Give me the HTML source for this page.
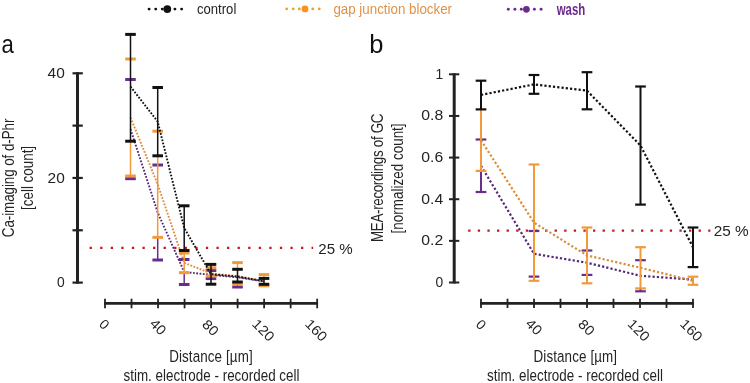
<!DOCTYPE html>
<html><head><meta charset="utf-8"><style>
html,body{margin:0;padding:0;background:#fff;}
svg{display:block;will-change:transform;}
text{font-family:"Liberation Sans", sans-serif;}
</style></head><body>
<svg width="750" height="383" viewBox="0 0 750 383">
<circle cx="149.10" cy="9.1" r="1.45" fill="#111111"/>
<circle cx="155.70" cy="9.1" r="1.45" fill="#111111"/>
<circle cx="162.30" cy="9.1" r="1.45" fill="#111111"/>
<circle cx="174.90" cy="9.1" r="1.45" fill="#111111"/>
<circle cx="181.60" cy="9.1" r="1.45" fill="#111111"/>
<circle cx="167.3" cy="9.1" r="3.9" fill="#111111"/>
<text x="197" y="14.4" font-size="15.5" fill="#242424" text-anchor="start" font-weight="normal" textLength="39.3" lengthAdjust="spacingAndGlyphs" >control</text>
<circle cx="286.70" cy="8.9" r="1.45" fill="#e5a72a"/>
<circle cx="293.20" cy="8.9" r="1.45" fill="#e5a72a"/>
<circle cx="299.30" cy="8.9" r="1.45" fill="#e5a72a"/>
<circle cx="312.70" cy="8.9" r="1.45" fill="#e5a72a"/>
<circle cx="319.20" cy="8.9" r="1.45" fill="#e5a72a"/>
<circle cx="305" cy="8.9" r="3.4" fill="#f7931e"/>
<text x="333.4" y="14" font-size="15.5" fill="#df9248" text-anchor="start" font-weight="normal" textLength="118.6" lengthAdjust="spacingAndGlyphs" >gap junction blocker</text>
<circle cx="508.30" cy="9.3" r="1.45" fill="#6a2d8c"/>
<circle cx="514.90" cy="9.3" r="1.45" fill="#6a2d8c"/>
<circle cx="521.30" cy="9.3" r="1.45" fill="#6a2d8c"/>
<circle cx="534.40" cy="9.3" r="1.45" fill="#6a2d8c"/>
<circle cx="541.10" cy="9.3" r="1.45" fill="#6a2d8c"/>
<circle cx="526.4" cy="9.3" r="3.4" fill="#6a2d8c"/>
<text x="556.7" y="14.9" font-size="16.5" fill="#6b2a8b" text-anchor="start" font-weight="bold" textLength="28.6" lengthAdjust="spacingAndGlyphs" >wash</text>
<text x="1.4" y="53.2" font-size="25" fill="#111" text-anchor="start" font-weight="normal" textLength="12.3" lengthAdjust="spacingAndGlyphs" >a</text>
<text x="369.3" y="53.2" font-size="25.5" fill="#111" text-anchor="start" font-weight="normal" >b</text>
<line x1="77.5" y1="72.2" x2="77.5" y2="283.70000000000005" stroke="#222222" stroke-width="3"/>
<line x1="72.5" y1="282.60" x2="82.8" y2="282.60" stroke="#222222" stroke-width="2.2"/>
<line x1="72.5" y1="230.28" x2="82.8" y2="230.28" stroke="#222222" stroke-width="2.2"/>
<line x1="72.5" y1="177.95" x2="82.8" y2="177.95" stroke="#222222" stroke-width="2.2"/>
<line x1="72.5" y1="125.62" x2="82.8" y2="125.62" stroke="#222222" stroke-width="2.2"/>
<line x1="72.5" y1="73.30" x2="82.8" y2="73.30" stroke="#222222" stroke-width="2.2"/>
<text x="64.8" y="78.0" font-size="13.8" fill="#242424" text-anchor="end" font-weight="normal" textLength="17.2" lengthAdjust="spacingAndGlyphs" >40</text>
<text x="64.8" y="182.65" font-size="13.8" fill="#242424" text-anchor="end" font-weight="normal" textLength="17.2" lengthAdjust="spacingAndGlyphs" >20</text>
<text x="64.8" y="287.3" font-size="13.8" fill="#242424" text-anchor="end" font-weight="normal" >0</text>
<line x1="104.1" y1="303.4" x2="318.05999999999995" y2="303.4" stroke="#222222" stroke-width="2.8"/>
<line x1="105.00" y1="298.7" x2="105.00" y2="308.3" stroke="#222222" stroke-width="1.8"/>
<line x1="131.52" y1="298.7" x2="131.52" y2="308.3" stroke="#222222" stroke-width="1.8"/>
<line x1="158.04" y1="298.7" x2="158.04" y2="308.3" stroke="#222222" stroke-width="1.8"/>
<line x1="184.56" y1="298.7" x2="184.56" y2="308.3" stroke="#222222" stroke-width="1.8"/>
<line x1="211.08" y1="298.7" x2="211.08" y2="308.3" stroke="#222222" stroke-width="1.8"/>
<line x1="237.60" y1="298.7" x2="237.60" y2="308.3" stroke="#222222" stroke-width="1.8"/>
<line x1="264.12" y1="298.7" x2="264.12" y2="308.3" stroke="#222222" stroke-width="1.8"/>
<line x1="290.64" y1="298.7" x2="290.64" y2="308.3" stroke="#222222" stroke-width="1.8"/>
<line x1="317.16" y1="298.7" x2="317.16" y2="308.3" stroke="#222222" stroke-width="1.8"/>
<text transform="translate(104.4,324.3) rotate(45)" font-size="13.8" fill="#242424" text-anchor="middle" dy="4.9">0</text>
<text transform="translate(158.2,326.8) rotate(45)" font-size="13.8" fill="#242424" text-anchor="middle" dy="4.9" textLength="16.4" lengthAdjust="spacingAndGlyphs">40</text>
<text transform="translate(210.6,327.5) rotate(45)" font-size="13.8" fill="#242424" text-anchor="middle" dy="4.9" textLength="16.4" lengthAdjust="spacingAndGlyphs">80</text>
<text transform="translate(263.5,330.1) rotate(45)" font-size="13.8" fill="#242424" text-anchor="middle" dy="4.9" textLength="24.6" lengthAdjust="spacingAndGlyphs">120</text>
<text transform="translate(316.3,330.1) rotate(45)" font-size="13.8" fill="#242424" text-anchor="middle" dy="4.9" textLength="24.6" lengthAdjust="spacingAndGlyphs">160</text>
<line x1="89.6" y1="247.9" x2="313.2" y2="247.9" stroke="#c8161f" stroke-width="2.3" stroke-dasharray="2.3 8.27"/>
<text x="318.3" y="254.3" font-size="13.8" fill="#242424" text-anchor="start" font-weight="normal" textLength="34.4" lengthAdjust="spacingAndGlyphs" >25 %</text>
<text transform="translate(13.7,177.9) rotate(-90) scale(0.86,1)" font-size="15.6" fill="#242424" text-anchor="middle" font-weight="normal" textLength="137.79" lengthAdjust="spacing">Ca-imaging of d-Phr</text>
<text transform="translate(32.7,177.9) rotate(-90) scale(0.86,1)" font-size="15.6" fill="#242424" text-anchor="middle" font-weight="normal" textLength="74.42" lengthAdjust="spacing">[cell count]</text>
<text transform="translate(210.9,361.7) scale(0.86,1)" font-size="15.6" fill="#242424" text-anchor="middle" font-weight="normal" textLength="97.09" lengthAdjust="spacing">Distance [µm]</text>
<text transform="translate(211.5,380.7) scale(0.86,1)" font-size="15.6" fill="#242424" text-anchor="middle" font-weight="normal" textLength="204.65" lengthAdjust="spacing">stim. electrode - recorded cell</text>
<line x1="130.5" y1="176.00" x2="130.5" y2="178.70" stroke="#6a2d8c" stroke-width="1.5"/>
<line x1="125.20" y1="79.5" x2="135.80" y2="79.5" stroke="#6a2d8c" stroke-width="3"/>
<line x1="125.20" y1="178.7" x2="135.80" y2="178.7" stroke="#6a2d8c" stroke-width="3"/>
<line x1="157.7" y1="237.40" x2="157.7" y2="260.00" stroke="#6a2d8c" stroke-width="1.5"/>
<line x1="152.40" y1="165" x2="163.00" y2="165" stroke="#6a2d8c" stroke-width="3"/>
<line x1="152.40" y1="260" x2="163.00" y2="260" stroke="#6a2d8c" stroke-width="3"/>
<line x1="184.2" y1="272.70" x2="184.2" y2="284.50" stroke="#6a2d8c" stroke-width="1.5"/>
<line x1="178.90" y1="259.5" x2="189.50" y2="259.5" stroke="#6a2d8c" stroke-width="3"/>
<line x1="178.90" y1="284.5" x2="189.50" y2="284.5" stroke="#6a2d8c" stroke-width="3"/>
<line x1="205.70" y1="270.5" x2="216.30" y2="270.5" stroke="#6a2d8c" stroke-width="3"/>
<line x1="205.70" y1="278.6" x2="216.30" y2="278.6" stroke="#6a2d8c" stroke-width="3"/>
<line x1="237.5" y1="284.00" x2="237.5" y2="287.00" stroke="#6a2d8c" stroke-width="1.5"/>
<line x1="232.20" y1="287.0" x2="242.80" y2="287.0" stroke="#6a2d8c" stroke-width="3"/>
<path d="M130.5,129.1 L157.7,212.5 L184.2,272 L211.0,274.8 L237.5,277.3 L264.0,281.3" fill="none" stroke="#572579" stroke-width="1.9" stroke-dasharray="1.75 1.55"/>
<line x1="130.5" y1="141.20" x2="130.5" y2="176.00" stroke="#f29a3a" stroke-width="1.5"/>
<line x1="125.20" y1="59" x2="135.80" y2="59" stroke="#f29a3a" stroke-width="3"/>
<line x1="125.20" y1="176" x2="135.80" y2="176" stroke="#f29a3a" stroke-width="3"/>
<line x1="157.7" y1="155.80" x2="157.7" y2="237.40" stroke="#f29a3a" stroke-width="1.5"/>
<line x1="152.40" y1="131.2" x2="163.00" y2="131.2" stroke="#f29a3a" stroke-width="3"/>
<line x1="152.40" y1="237.4" x2="163.00" y2="237.4" stroke="#f29a3a" stroke-width="3"/>
<line x1="184.2" y1="253.00" x2="184.2" y2="272.70" stroke="#f29a3a" stroke-width="1.5"/>
<line x1="178.90" y1="253" x2="189.50" y2="253" stroke="#f29a3a" stroke-width="3"/>
<line x1="178.90" y1="272.7" x2="189.50" y2="272.7" stroke="#f29a3a" stroke-width="3"/>
<line x1="205.70" y1="267.8" x2="216.30" y2="267.8" stroke="#f29a3a" stroke-width="3"/>
<line x1="205.70" y1="276.0" x2="216.30" y2="276.0" stroke="#f29a3a" stroke-width="3"/>
<line x1="237.5" y1="262.60" x2="237.5" y2="269.30" stroke="#f29a3a" stroke-width="1.5"/>
<line x1="237.5" y1="282.00" x2="237.5" y2="284.00" stroke="#f29a3a" stroke-width="1.5"/>
<line x1="232.20" y1="262.6" x2="242.80" y2="262.6" stroke="#f29a3a" stroke-width="3"/>
<line x1="232.20" y1="284.0" x2="242.80" y2="284.0" stroke="#f29a3a" stroke-width="3"/>
<line x1="264.0" y1="274.60" x2="264.0" y2="278.40" stroke="#f29a3a" stroke-width="1.5"/>
<line x1="264.0" y1="284.30" x2="264.0" y2="285.80" stroke="#f29a3a" stroke-width="1.5"/>
<line x1="258.70" y1="274.6" x2="269.30" y2="274.6" stroke="#f29a3a" stroke-width="3"/>
<line x1="258.70" y1="285.8" x2="269.30" y2="285.8" stroke="#f29a3a" stroke-width="3"/>
<path d="M130.5,117.5 L157.7,184.3 L184.2,262.8 L211.0,273.4 L237.5,276.0 L264.0,281.0" fill="none" stroke="#dc8d3c" stroke-width="1.9" stroke-dasharray="1.75 1.55"/>
<line x1="130.5" y1="34.40" x2="130.5" y2="141.20" stroke="#111111" stroke-width="1.5"/>
<line x1="125.20" y1="34.4" x2="135.80" y2="34.4" stroke="#111111" stroke-width="3"/>
<line x1="125.20" y1="141.2" x2="135.80" y2="141.2" stroke="#111111" stroke-width="3"/>
<line x1="157.7" y1="87.50" x2="157.7" y2="155.80" stroke="#111111" stroke-width="1.5"/>
<line x1="152.40" y1="87.5" x2="163.00" y2="87.5" stroke="#111111" stroke-width="3"/>
<line x1="152.40" y1="155.8" x2="163.00" y2="155.8" stroke="#111111" stroke-width="3"/>
<line x1="184.2" y1="205.80" x2="184.2" y2="250.50" stroke="#111111" stroke-width="1.5"/>
<line x1="178.90" y1="205.8" x2="189.50" y2="205.8" stroke="#111111" stroke-width="3"/>
<line x1="178.90" y1="250.5" x2="189.50" y2="250.5" stroke="#111111" stroke-width="3"/>
<line x1="211.0" y1="264.40" x2="211.0" y2="284.20" stroke="#111111" stroke-width="1.5"/>
<line x1="205.70" y1="264.4" x2="216.30" y2="264.4" stroke="#111111" stroke-width="3"/>
<line x1="205.70" y1="284.2" x2="216.30" y2="284.2" stroke="#111111" stroke-width="3"/>
<line x1="237.5" y1="269.30" x2="237.5" y2="282.00" stroke="#111111" stroke-width="1.5"/>
<line x1="232.20" y1="269.3" x2="242.80" y2="269.3" stroke="#111111" stroke-width="3"/>
<line x1="232.20" y1="282.0" x2="242.80" y2="282.0" stroke="#111111" stroke-width="3"/>
<line x1="264.0" y1="278.40" x2="264.0" y2="284.30" stroke="#111111" stroke-width="1.5"/>
<line x1="258.70" y1="278.4" x2="269.30" y2="278.4" stroke="#111111" stroke-width="3"/>
<line x1="258.70" y1="284.3" x2="269.30" y2="284.3" stroke="#111111" stroke-width="3"/>
<path d="M130.5,86.6 L157.7,121.6 L184.2,228 L211.0,274.2 L237.5,276.6 L264.0,281.3" fill="none" stroke="#111111" stroke-width="1.9" stroke-dasharray="1.75 1.55"/>
<line x1="454.2" y1="73.3" x2="454.2" y2="283.5" stroke="#222222" stroke-width="3"/>
<line x1="449" y1="282.50" x2="459.3" y2="282.50" stroke="#222222" stroke-width="2"/>
<text x="443.2" y="287.0" font-size="13.8" fill="#242424" text-anchor="end" font-weight="normal" >0</text>
<line x1="449" y1="240.86" x2="459.3" y2="240.86" stroke="#222222" stroke-width="2"/>
<text x="443.2" y="245.36" font-size="13.8" fill="#242424" text-anchor="end" font-weight="normal" textLength="21.9" lengthAdjust="spacingAndGlyphs" >0.2</text>
<line x1="449" y1="199.22" x2="459.3" y2="199.22" stroke="#222222" stroke-width="2"/>
<text x="443.2" y="203.72" font-size="13.8" fill="#242424" text-anchor="end" font-weight="normal" textLength="21.9" lengthAdjust="spacingAndGlyphs" >0.4</text>
<line x1="449" y1="157.58" x2="459.3" y2="157.58" stroke="#222222" stroke-width="2"/>
<text x="443.2" y="162.08" font-size="13.8" fill="#242424" text-anchor="end" font-weight="normal" textLength="21.9" lengthAdjust="spacingAndGlyphs" >0.6</text>
<line x1="449" y1="115.94" x2="459.3" y2="115.94" stroke="#222222" stroke-width="2"/>
<text x="443.2" y="120.44" font-size="13.8" fill="#242424" text-anchor="end" font-weight="normal" textLength="21.9" lengthAdjust="spacingAndGlyphs" >0.8</text>
<line x1="449" y1="74.30" x2="459.3" y2="74.30" stroke="#222222" stroke-width="2"/>
<text x="443.2" y="78.80000000000001" font-size="13.8" fill="#242424" text-anchor="end" font-weight="normal" >1</text>
<line x1="480.1" y1="303.3" x2="693.9" y2="303.3" stroke="#222222" stroke-width="2.8"/>
<line x1="481.00" y1="298.7" x2="481.00" y2="308" stroke="#222222" stroke-width="1.8"/>
<line x1="507.50" y1="298.7" x2="507.50" y2="308" stroke="#222222" stroke-width="1.8"/>
<line x1="534.00" y1="298.7" x2="534.00" y2="308" stroke="#222222" stroke-width="1.8"/>
<line x1="560.50" y1="298.7" x2="560.50" y2="308" stroke="#222222" stroke-width="1.8"/>
<line x1="587.00" y1="298.7" x2="587.00" y2="308" stroke="#222222" stroke-width="1.8"/>
<line x1="613.50" y1="298.7" x2="613.50" y2="308" stroke="#222222" stroke-width="1.8"/>
<line x1="640.00" y1="298.7" x2="640.00" y2="308" stroke="#222222" stroke-width="1.8"/>
<line x1="666.50" y1="298.7" x2="666.50" y2="308" stroke="#222222" stroke-width="1.8"/>
<line x1="693.00" y1="298.7" x2="693.00" y2="308" stroke="#222222" stroke-width="1.8"/>
<text transform="translate(481.3,324.5) rotate(45)" font-size="13.8" fill="#242424" text-anchor="middle" dy="4.9">0</text>
<text transform="translate(534.1,326.8) rotate(45)" font-size="13.8" fill="#242424" text-anchor="middle" dy="4.9" textLength="16.4" lengthAdjust="spacingAndGlyphs">40</text>
<text transform="translate(586.6,327.3) rotate(45)" font-size="13.8" fill="#242424" text-anchor="middle" dy="4.9" textLength="16.4" lengthAdjust="spacingAndGlyphs">80</text>
<text transform="translate(638.8,330.1) rotate(45)" font-size="13.8" fill="#242424" text-anchor="middle" dy="4.9" textLength="24.6" lengthAdjust="spacingAndGlyphs">120</text>
<text transform="translate(691.5,330.1) rotate(45)" font-size="13.8" fill="#242424" text-anchor="middle" dy="4.9" textLength="24.6" lengthAdjust="spacingAndGlyphs">160</text>
<line x1="468.2" y1="230.6" x2="710.4" y2="230.6" stroke="#c8161f" stroke-width="2.3" stroke-dasharray="2.3 7.3"/>
<text x="713.7" y="236.1" font-size="13.8" fill="#242424" text-anchor="start" font-weight="normal" textLength="35" lengthAdjust="spacingAndGlyphs" >25 %</text>
<text transform="translate(383.3,177.8) rotate(-90) scale(0.86,1)" font-size="15.6" fill="#242424" text-anchor="middle" font-weight="normal" textLength="149.42" lengthAdjust="spacing">MEA-recordings of GC</text>
<text transform="translate(402.8,178.4) rotate(-90) scale(0.86,1)" font-size="15.6" fill="#242424" text-anchor="middle" font-weight="normal" textLength="127.91" lengthAdjust="spacing">[normalized count]</text>
<text transform="translate(575.3,361.7) scale(0.86,1)" font-size="15.6" fill="#242424" text-anchor="middle" font-weight="normal" textLength="97.09" lengthAdjust="spacing">Distance [µm]</text>
<text transform="translate(575.0,380.7) scale(0.86,1)" font-size="15.6" fill="#242424" text-anchor="middle" font-weight="normal" textLength="204.65" lengthAdjust="spacing">stim. electrode - recorded cell</text>
<line x1="481.0" y1="170.90" x2="481.0" y2="192.00" stroke="#6a2d8c" stroke-width="2"/>
<line x1="475.65" y1="139.5" x2="486.35" y2="139.5" stroke="#6a2d8c" stroke-width="2.2"/>
<line x1="475.65" y1="192" x2="486.35" y2="192" stroke="#6a2d8c" stroke-width="2.2"/>
<line x1="528.65" y1="231" x2="539.35" y2="231" stroke="#6a2d8c" stroke-width="2.2"/>
<line x1="528.65" y1="276.6" x2="539.35" y2="276.6" stroke="#6a2d8c" stroke-width="2.2"/>
<line x1="581.65" y1="250.5" x2="592.35" y2="250.5" stroke="#6a2d8c" stroke-width="2.2"/>
<line x1="581.65" y1="274.9" x2="592.35" y2="274.9" stroke="#6a2d8c" stroke-width="2.2"/>
<line x1="640.5" y1="288.40" x2="640.5" y2="291.30" stroke="#6a2d8c" stroke-width="2"/>
<line x1="635.15" y1="260.2" x2="645.85" y2="260.2" stroke="#6a2d8c" stroke-width="2.2"/>
<line x1="635.15" y1="291.3" x2="645.85" y2="291.3" stroke="#6a2d8c" stroke-width="2.2"/>
<path d="M481.0,165.8 L534.0,253.8 L587.0,262.7 L640.5,275.8 L693.0,279.6" fill="none" stroke="#572579" stroke-width="2.2" stroke-dasharray="2.2 2.1"/>
<line x1="481.0" y1="109.40" x2="481.0" y2="170.90" stroke="#f29a3a" stroke-width="2"/>
<line x1="475.65" y1="170.9" x2="486.35" y2="170.9" stroke="#f29a3a" stroke-width="2.2"/>
<line x1="534.0" y1="164.50" x2="534.0" y2="280.80" stroke="#f29a3a" stroke-width="2"/>
<line x1="528.65" y1="164.5" x2="539.35" y2="164.5" stroke="#f29a3a" stroke-width="2.2"/>
<line x1="528.65" y1="280.8" x2="539.35" y2="280.8" stroke="#f29a3a" stroke-width="2.2"/>
<line x1="587.0" y1="227.50" x2="587.0" y2="283.30" stroke="#f29a3a" stroke-width="2"/>
<line x1="581.65" y1="227.5" x2="592.35" y2="227.5" stroke="#f29a3a" stroke-width="2.2"/>
<line x1="581.65" y1="283.3" x2="592.35" y2="283.3" stroke="#f29a3a" stroke-width="2.2"/>
<line x1="640.5" y1="247.20" x2="640.5" y2="288.40" stroke="#f29a3a" stroke-width="2"/>
<line x1="635.15" y1="247.2" x2="645.85" y2="247.2" stroke="#f29a3a" stroke-width="2.2"/>
<line x1="635.15" y1="288.4" x2="645.85" y2="288.4" stroke="#f29a3a" stroke-width="2.2"/>
<line x1="693.0" y1="276.70" x2="693.0" y2="284.80" stroke="#f29a3a" stroke-width="2"/>
<line x1="687.65" y1="276.7" x2="698.35" y2="276.7" stroke="#f29a3a" stroke-width="2.2"/>
<line x1="687.65" y1="284.8" x2="698.35" y2="284.8" stroke="#f29a3a" stroke-width="2.2"/>
<path d="M481.0,140.2 L534.0,222.6 L587.0,255.4 L640.5,267.8 L693.0,280.7" fill="none" stroke="#dc8d3c" stroke-width="2.2" stroke-dasharray="2.2 2.1"/>
<line x1="481.0" y1="80.70" x2="481.0" y2="109.40" stroke="#111111" stroke-width="2"/>
<line x1="475.65" y1="80.7" x2="486.35" y2="80.7" stroke="#111111" stroke-width="2.2"/>
<line x1="475.65" y1="109.4" x2="486.35" y2="109.4" stroke="#111111" stroke-width="2.2"/>
<line x1="534.0" y1="75.00" x2="534.0" y2="93.80" stroke="#111111" stroke-width="2"/>
<line x1="528.65" y1="75" x2="539.35" y2="75" stroke="#111111" stroke-width="2.2"/>
<line x1="528.65" y1="93.8" x2="539.35" y2="93.8" stroke="#111111" stroke-width="2.2"/>
<line x1="587.0" y1="72.20" x2="587.0" y2="109.30" stroke="#111111" stroke-width="2"/>
<line x1="581.65" y1="72.2" x2="592.35" y2="72.2" stroke="#111111" stroke-width="2.2"/>
<line x1="581.65" y1="109.3" x2="592.35" y2="109.3" stroke="#111111" stroke-width="2.2"/>
<line x1="640.5" y1="86.50" x2="640.5" y2="204.60" stroke="#111111" stroke-width="2"/>
<line x1="635.15" y1="86.5" x2="645.85" y2="86.5" stroke="#111111" stroke-width="2.2"/>
<line x1="635.15" y1="204.6" x2="645.85" y2="204.6" stroke="#111111" stroke-width="2.2"/>
<line x1="693.0" y1="227.50" x2="693.0" y2="267.10" stroke="#111111" stroke-width="2"/>
<line x1="687.65" y1="227.5" x2="698.35" y2="227.5" stroke="#111111" stroke-width="2.2"/>
<line x1="687.65" y1="267.1" x2="698.35" y2="267.1" stroke="#111111" stroke-width="2.2"/>
<path d="M481.0,94.9 L534.0,84.4 L587.0,90.7 L640.5,145.5 L693.0,247.3" fill="none" stroke="#111111" stroke-width="2.2" stroke-dasharray="2.2 2.1"/>
</svg>
</body></html>
